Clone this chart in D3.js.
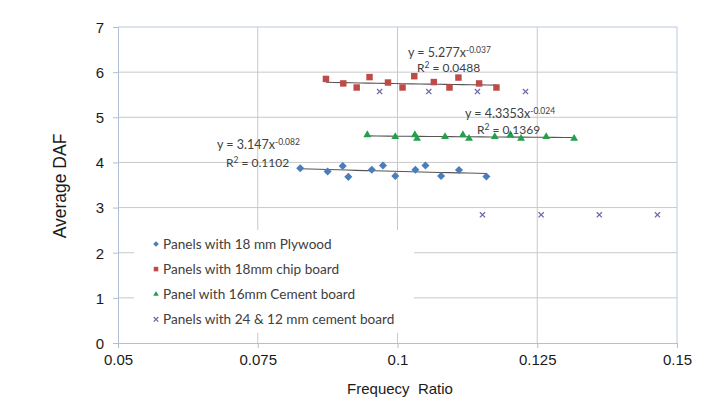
<!DOCTYPE html>
<html>
<head>
<meta charset="utf-8">
<script src="https://cdn.jsdelivr.net/npm/d3@7"></script>
<style>
  body { margin: 0; background: #fff; }
  text { font-family: "Liberation Sans", Arial, sans-serif; }
  .note, .legend text { font-family: Lato, "Open Sans", sans-serif; fill: #404040; }
</style>
</head>
<body>
<div id="chart"></div>
<script>
const width = 714, height = 411;

// series data
const plywoodX = [0.0826, 0.0875, 0.0902, 0.0912, 0.0954, 0.0974, 0.0996, 0.1032, 0.1050, 0.1078, 0.1110, 0.1159];
const plywoodY = [3.87, 3.80, 3.92, 3.68, 3.84, 3.93, 3.70, 3.84, 3.93, 3.70, 3.83, 3.69];
const chipX = [0.0872, 0.0903, 0.0927, 0.0950, 0.0983, 0.1009, 0.1030, 0.1065, 0.1093, 0.1109, 0.1146, 0.1177];
const chipY = [5.85, 5.75, 5.66, 5.89, 5.77, 5.66, 5.91, 5.78, 5.66, 5.88, 5.75, 5.66];
const cement16X = [0.0946, 0.0996, 0.1031, 0.1035, 0.1085, 0.1117, 0.1128, 0.1174, 0.1202, 0.1221, 0.1266, 0.1316];
const cement16Y = [4.61, 4.57, 4.61, 4.53, 4.57, 4.61, 4.53, 4.57, 4.61, 4.53, 4.57, 4.53];
const cement24X = [0.0968, 0.1056, 0.1143, 0.1229, 0.1152, 0.1257, 0.1361, 0.1465];
const cement24Y = [5.57, 5.57, 5.57, 5.57, 2.84, 2.84, 2.84, 2.84];

const seriesNames = ["Panels with 18 mm Plywood", "Panels with 18mm chip board",
    "Panel with 16mm Cement board", "Panels with 24 & 12 mm cement board"];
const seriesColors = ["#4a7ebb", "#be4b48", "#22a04b", "#6f6aa8"];
const seriesShapes = ["diamond", "square", "triangle", "cross"];

// power trendlines y = a * x^b (first three series)
const trendA = [3.147, 5.277, 4.3353];
const trendB = [-0.082, -0.037, -0.024];
const trendCoef = ["3.147x", "5.277x", "4.3353x"];
const trendExp = ["-0.082", "-0.037", "-0.024"];
const trendR2 = ["0.1102", "0.0488", "0.1369"];

const xTicks = [0.05, 0.075, 0.1, 0.125, 0.15];
const yTicks = [0, 1, 2, 3, 4, 5, 6, 7];

const x = d3.scaleLinear().domain([0.05, 0.15]).range([118, 677]);
const y = d3.scaleLinear().domain([0, 7]).range([343, 27]);

const svg = d3.select("#chart").append("svg")
    .attr("width", width)
    .attr("height", height);

// grid
svg.append("g").selectAll("line")
    .data(yTicks.filter(d => d > 0))
    .enter().append("line")
    .attr("x1", x(0.05)).attr("x2", x(0.15))
    .attr("y1", d => y(d)).attr("y2", d => y(d))
    .attr("stroke", d => d === 7 ? "#b9c9df" : "#c9c9c9");
svg.append("g").selectAll("line")
    .data(xTicks.filter(d => d > 0.05))
    .enter().append("line")
    .attr("x1", d => x(d)).attr("x2", d => x(d))
    .attr("y1", y(0)).attr("y2", y(7))
    .attr("stroke", d => d === 0.15 ? "#b9c9df" : "#c9c9c9");

// axes
const xAxis = svg.append("g")
    .attr("transform", "translate(0," + y(0) + ")")
    .call(d3.axisBottom(x).tickValues(xTicks).tickSize(5).tickPadding(6)
        .tickFormat(d3.format("")));
const yAxis = svg.append("g")
    .attr("transform", "translate(" + x(0.05) + ",0)")
    .call(d3.axisLeft(y).tickValues(yTicks).tickSize(5).tickPadding(9)
        .tickFormat(d3.format("d")));
[xAxis, yAxis].forEach(function(a) {
    a.attr("font-family", null);
    a.select(".domain").attr("stroke", "#aebfd6");
    a.selectAll(".tick line").attr("stroke", "#aebfd6");
    a.selectAll(".tick text").attr("fill", "#1a1a1a").style("font-size", "15px");
});
yAxis.selectAll(".tick text").attr("dy", "0.36em");

svg.append("text")
    .attr("x", 400).attr("y", 394)
    .attr("text-anchor", "middle")
    .style("font-size", "15px")
    .style("white-space", "pre")
    .attr("fill", "#1a1a1a")
    .text("Frequecy  Ratio");
svg.append("text")
    .attr("transform", "translate(66,186) rotate(-90)")
    .attr("text-anchor", "middle")
    .style("font-size", "17.5px")
    .attr("fill", "#1a1a1a")
    .text("Average DAF");

// legend (white box hides the grid behind it)
const legend = svg.append("g").attr("class", "legend");
legend.append("rect")
    .attr("x", 134).attr("y", 230)
    .attr("width", 280).attr("height", 103)
    .attr("fill", "#fff");

function marker(sel, shape, color, s) {
    if (shape === "cross") {
        sel.append("path")
            .attr("d", "M" + (-s) + "," + (-s) + "L" + s + "," + s + "M" + (-s) + "," + s + "L" + s + "," + (-s))
            .attr("stroke", color).attr("stroke-width", 1.3).attr("fill", "none");
    } else if (shape === "diamond") {
        sel.append("path")
            .attr("d", d3.symbol().type(d3.symbolSquare).size(s * s * 2.8)())
            .attr("transform", "rotate(45)")
            .attr("fill", color);
    } else if (shape === "square") {
        sel.append("path")
            .attr("d", d3.symbol().type(d3.symbolSquare).size(s * s * 3.6)())
            .attr("fill", color);
    } else {
        sel.append("path")
            .attr("d", d3.symbol().type(d3.symbolTriangle).size(s * s * 2.3)())
            .attr("fill", color);
    }
}

const legendRows = legend.selectAll(".row")
    .data(seriesNames)
    .enter().append("g")
    .attr("class", "row")
    .attr("transform", (d, i) => "translate(156," + (244 + i * 25.1) + ")");
legendRows.each(function(d, i) {
    marker(d3.select(this), seriesShapes[i], seriesColors[i], i === 3 ? 2.3 : 2.4);
});
legendRows.append("text")
    .attr("x", 7).attr("dy", "0.35em")
    .style("font-size", "13.6px")
    .text(d => d);

// trendlines
const xsets = [plywoodX, chipX, cement16X, cement24X];
const ysets = [plywoodY, chipY, cement16Y, cement24Y];
trendA.forEach(function(a, i) {
    const ext = d3.extent(xsets[i]);
    const pts = d3.range(0, 21).map(k => ext[0] + (ext[1] - ext[0]) * k / 20);
    svg.append("path")
        .datum(pts)
        .attr("fill", "none")
        .attr("stroke", "#555")
        .attr("stroke-width", 1.1)
        .attr("d", d3.line().x(d => x(d)).y(d => y(a * Math.pow(d, trendB[i]))));
});

// points
xsets.forEach(function(xs, i) {
    const g = svg.append("g");
    xs.forEach(function(v, j) {
        const p = g.append("g").attr("transform", "translate(" + x(v) + "," + y(ysets[i][j]) + ")");
        marker(p, seriesShapes[i], seriesColors[i], i === 3 ? 2.6 : 3.4);
    });
});

// equation labels
const notePos = [[217, 149, 226, 167], [408, 57, 417, 72], [465, 118, 477, 134]];
trendCoef.forEach(function(c, i) {
    const eq = svg.append("text").attr("class", "note")
        .attr("x", notePos[i][0]).attr("y", notePos[i][1])
        .style("font-size", "12.5px");
    eq.append("tspan").text("y = " + c);
    eq.append("tspan").attr("dy", -4).style("font-size", "8.5px").text(trendExp[i]);
    const r = svg.append("text").attr("class", "note")
        .attr("x", notePos[i][2]).attr("y", notePos[i][3])
        .style("font-size", "12px");
    r.append("tspan").text("R");
    r.append("tspan").attr("dy", -4).style("font-size", "8.5px").text("2");
    r.append("tspan").attr("dy", 4).text(" = " + trendR2[i]);
});
</script>
</body>
</html>
